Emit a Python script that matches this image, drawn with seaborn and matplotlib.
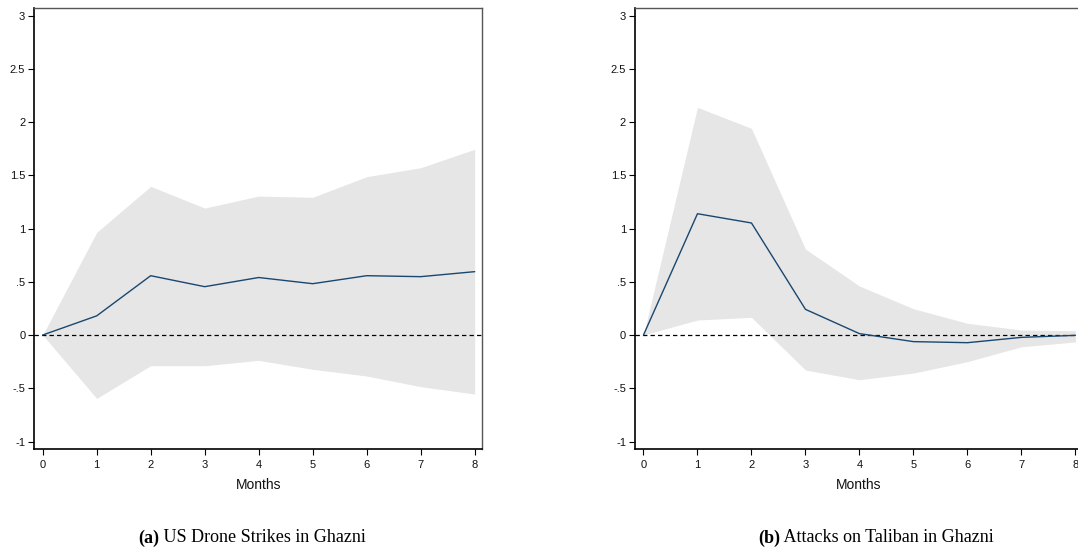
import numpy as np
import pandas as pd
import matplotlib
matplotlib.use("Agg")
import matplotlib.pyplot as plt
import seaborn as sns

# Impulse responses over horizon (months) with confidence bands
months = [0, 1, 2, 3, 4, 5, 6, 7, 8]

drone_irf = [0.0, 0.18, 0.557, 0.454, 0.54, 0.482, 0.557, 0.548, 0.595]
drone_upper = [0.0, 0.964, 1.396, 1.192, 1.305, 1.293, 1.487, 1.571, 1.744]
drone_lower = [0.0, -0.595, -0.288, -0.288, -0.238, -0.322, -0.385, -0.485, -0.554]

taliban_irf = [0.0, 1.139, 1.052, 0.241, 0.013, -0.062, -0.072, -0.022, -0.003]
taliban_upper = [0.0, 2.138, 1.94, 0.807, 0.46, 0.247, 0.11, 0.047, 0.04]
taliban_lower = [0.0, 0.141, 0.166, -0.329, -0.42, -0.357, -0.25, -0.11, -0.065]

y_ticks = [-1, -0.5, 0, 0.5, 1, 1.5, 2, 2.5, 3]
y_tick_labels = ["-1", "-.5", "0", ".5", "1", "1.5", "2", "2.5", "3"]

caption_tags = ["(a)", "(b)"]
caption_texts = [" US Drone Strikes in Ghazni", " Attacks on Taliban in Ghazni"]

sns.set_theme(style="white")
plt.rcParams["font.family"] = ["Liberation Sans", "DejaVu Sans"]

W, H = 1078, 554
fig = plt.figure(figsize=(W / 100, H / 100), dpi=100)

panels = [
    (drone_irf, drone_lower, drone_upper, [0.0318, 0.189, 0.4153, 0.797], 252),
    (taliban_irf, taliban_lower, taliban_upper, [0.5891, 0.189, 0.4153, 0.797], 876),
]

line_color = "#1a476f"
band_color = "#e6e6e6"
renderer = fig.canvas.get_renderer()

for (irf, lo, hi, rect, center_px), tag, text in zip(panels, caption_tags, caption_texts):
    ax = fig.add_axes(rect)
    df = pd.DataFrame({"Months": months, "irf": irf, "lo": lo, "hi": hi})
    ax.fill_between(df["Months"], df["lo"], df["hi"], color=band_color,
                    linewidth=0, zorder=1)
    ax.axhline(0, color="black", linestyle=(0, (3.5, 2.5)), linewidth=0.9,
               zorder=2)
    sns.lineplot(data=df, x="Months", y="irf", ax=ax, color=line_color,
                 linewidth=1.0, zorder=3)

    ax.set_xlim(-0.156, 8.135)
    ax.set_ylim(-1.073, 3.073)
    ax.set_xticks(months)
    ax.set_xticklabels([str(m) for m in months])
    ax.set_yticks(y_ticks)
    ax.set_yticklabels(y_tick_labels)
    ax.set_xlabel("Months", fontsize=10, labelpad=6, color="#111111")
    ax.set_ylabel("")

    ax.tick_params(axis="both", which="major", direction="out", length=4.5,
                   width=0.8, color="black", labelsize=8,
                   labelcolor="#111111", pad=2,
                   bottom=True, left=True, top=False, right=False)
    ax.tick_params(axis="x", pad=3)

    for side in ("left", "bottom"):
        ax.spines[side].set_color("black")
        ax.spines[side].set_linewidth(1.2)
    for side in ("top", "right"):
        ax.spines[side].set_color("#555555")
        ax.spines[side].set_linewidth(1.0)
    ax.grid(False)

    # caption beneath the panel: bold tag followed by regular text
    y_cap = 1 - 538 / H
    tag_t = fig.text(0, y_cap, tag, ha="left", va="center", fontsize=13,
                     family="Liberation Serif", fontweight="bold",
                     color="black")
    txt_t = fig.text(0, y_cap, text, ha="left", va="center", fontsize=13,
                     family="Liberation Serif", color="black")
    w_tag = tag_t.get_window_extent(renderer).width
    w_txt = txt_t.get_window_extent(renderer).width
    start = center_px - (w_tag + w_txt) / 2
    tag_t.set_x(start / W)
    txt_t.set_x((start + w_tag) / W)

fig.savefig("out.png", dpi=100)
